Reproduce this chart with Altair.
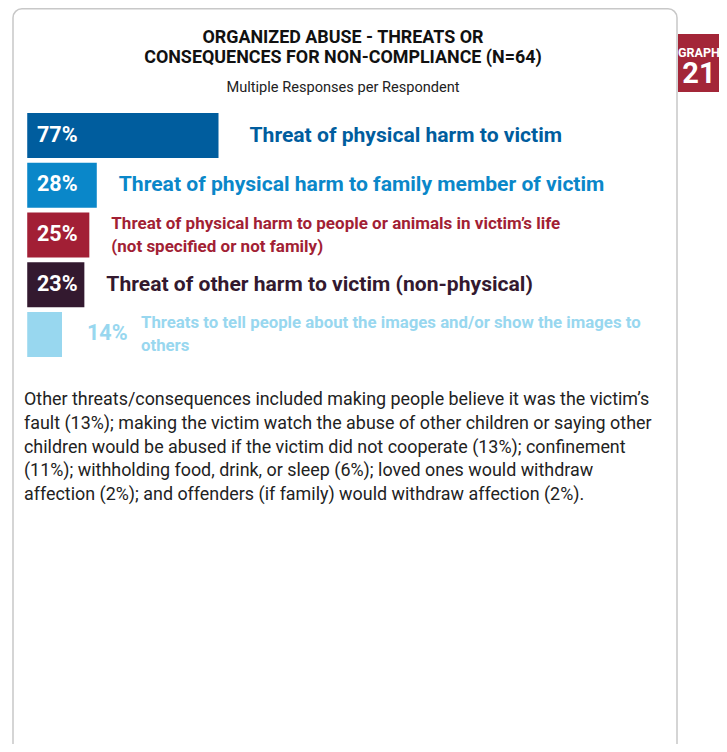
import altair as alt
import pandas as pd

# ---- data -------------------------------------------------------------
categories = [
    "Threat of physical harm to victim",
    "Threat of physical harm to family member of victim",
    "Threat of physical harm to people or animals in victim’s life\n(not specified or not family)",
    "Threat of other harm to victim (non-physical)",
    "Threats to tell people about the images and/or show the images to\nothers",
]
values = [77, 28, 25, 23, 14]
bar_colors = ["#005d9e", "#0a87c9", "#a21f35", "#33192f", "#98d7ef"]

title_lines = ["ORGANIZED ABUSE - THREATS OR", "CONSEQUENCES FOR NON-COMPLIANCE (N=64)"]
subtitle = "Multiple Responses per Respondent"
graph_word = "GRAPH"
graph_number = "21"
note_lines = [
    "Other threats/consequences included making people believe it was the victim’s",
    "fault (13%); making the victim watch the abuse of other children or saying other",
    "children would be abused if the victim did not cooperate (13%); confinement",
    "(11%); withholding food, drink, or sleep (6%); loved ones would withdraw",
    "affection (2%); and offenders (if family) would withdraw affection (2%).",
]

COND = "Roboto"
BODY = "Roboto"

df = pd.DataFrame({"cat": categories, "value": values})
one = alt.Data(values=[{"k": 1}])

xscale = alt.Scale(domain=[-1.3, 77], range=[16, 210.5], nice=False, zero=False)
yscale = alt.Scale(range=[105, 349], paddingInner=0.095, paddingOuter=0)
cscale = alt.Scale(domain=categories, range=bar_colors)

# ---- frame & tab ------------------------------------------------------
box = alt.Chart(one).mark_rect(
    fillOpacity=0, stroke="#c8c8c8", strokeWidth=1.5, cornerRadius=9
).encode(x=alt.value(5), x2=alt.value(669), y=alt.value(0.75), y2=alt.value(820))

tab = alt.Chart(one).mark_rect(
    color="#a32638", cornerRadiusTopRight=6, cornerRadiusBottomRight=6
).encode(x=alt.value(670), x2=alt.value(730), y=alt.value(26), y2=alt.value(84))

tab_word = alt.Chart(one).mark_text(
    text=graph_word, font=COND, fontWeight="bold", fontSize=12.5, color="white",
    align="center", baseline="alphabetic"
).encode(x=alt.value(691), y=alt.value(49))

tab_num = alt.Chart(one).mark_text(
    text=graph_number, font=COND, fontWeight="bold", fontSize=29, color="white",
    align="center", baseline="alphabetic"
).encode(x=alt.value(691), y=alt.value(75))

title = alt.Chart(one).mark_text(
    text=title_lines, lineBreak="\n", font=COND, fontWeight="bold", fontSize=17.9,
    lineHeight=20, color="#111111", align="center", baseline="alphabetic"
).encode(x=alt.value(335), y=alt.value(35))

sub = alt.Chart(one).mark_text(
    text=subtitle, font=BODY, fontSize=14.6, color="#222222",
    align="center", baseline="alphabetic"
).encode(x=alt.value(335), y=alt.value(84))

# ---- bars -------------------------------------------------------------
base = alt.Chart(df).encode(
    y=alt.Y("cat:N", sort=categories, scale=yscale, axis=None)
)
col = alt.Color("cat:N", scale=cscale, legend=None)
xq = alt.X("value:Q", scale=xscale, axis=None)

bars = base.mark_bar().encode(x=xq, x2=alt.value(16), color=col)

pct = base.transform_calculate(pct="datum.value + '%'")
pct_in = pct.transform_filter("datum.value > 20").mark_text(
    font=COND, fontWeight="bold", fontSize=21.5, color="white",
    align="left", baseline="middle"
).encode(x=alt.value(29), text="pct:N")
pct_out = pct.transform_filter("datum.value <= 20").mark_text(
    font=COND, fontWeight="bold", fontSize=21.5, align="left", baseline="middle", dx=25
).encode(x=xq, text="pct:N", color=col)

first = f"datum.cat == '{categories[0]}'"
lab1 = base.transform_filter(first).mark_text(
    font=COND, fontWeight="bold", fontSize=21.1, align="left", baseline="middle", dx=31
).encode(x=xq, text="cat:N", color=col)
lab2 = base.transform_filter(
    f"!({first}) && indexof(datum.cat, '\\n') < 0"
).mark_text(
    font=COND, fontWeight="bold", fontSize=21.1, align="left", baseline="middle", dx=22
).encode(x=xq, text="cat:N", color=col)
lab3 = base.transform_filter(
    "indexof(datum.cat, '\\n') >= 0 && datum.value > 20"
).mark_text(
    font=COND, fontWeight="bold", fontSize=17.0, lineBreak="\n", lineHeight=23.5,
    align="left", baseline="middle", dx=22, dy=-11.5
).encode(x=xq, text="cat:N", color=col)
lab4 = base.transform_filter(
    "indexof(datum.cat, '\\n') >= 0 && datum.value <= 20"
).mark_text(
    font=COND, fontWeight="bold", fontSize=16.8, lineBreak="\n", lineHeight=23.5,
    align="left", baseline="middle", dx=79, dy=-11.5
).encode(x=xq, text="cat:N", color=col)

note = alt.Chart(one).mark_text(
    text=note_lines, font=BODY, fontSize=17.9, lineHeight=23.8, color="#222222",
    align="left", baseline="alphabetic"
).encode(x=alt.value(16), y=alt.value(397))

chart = alt.layer(
    box, tab, tab_word, tab_num, title, sub,
    bars, pct_in, pct_out, lab1, lab2, lab3, lab4, note
).properties(
    width=711, height=736, padding=0,
    autosize=alt.AutoSizeParams(type="none")
).configure_view(strokeWidth=0)

chart.save("out.html", embed_options={"renderer": "svg", "actions": False})
